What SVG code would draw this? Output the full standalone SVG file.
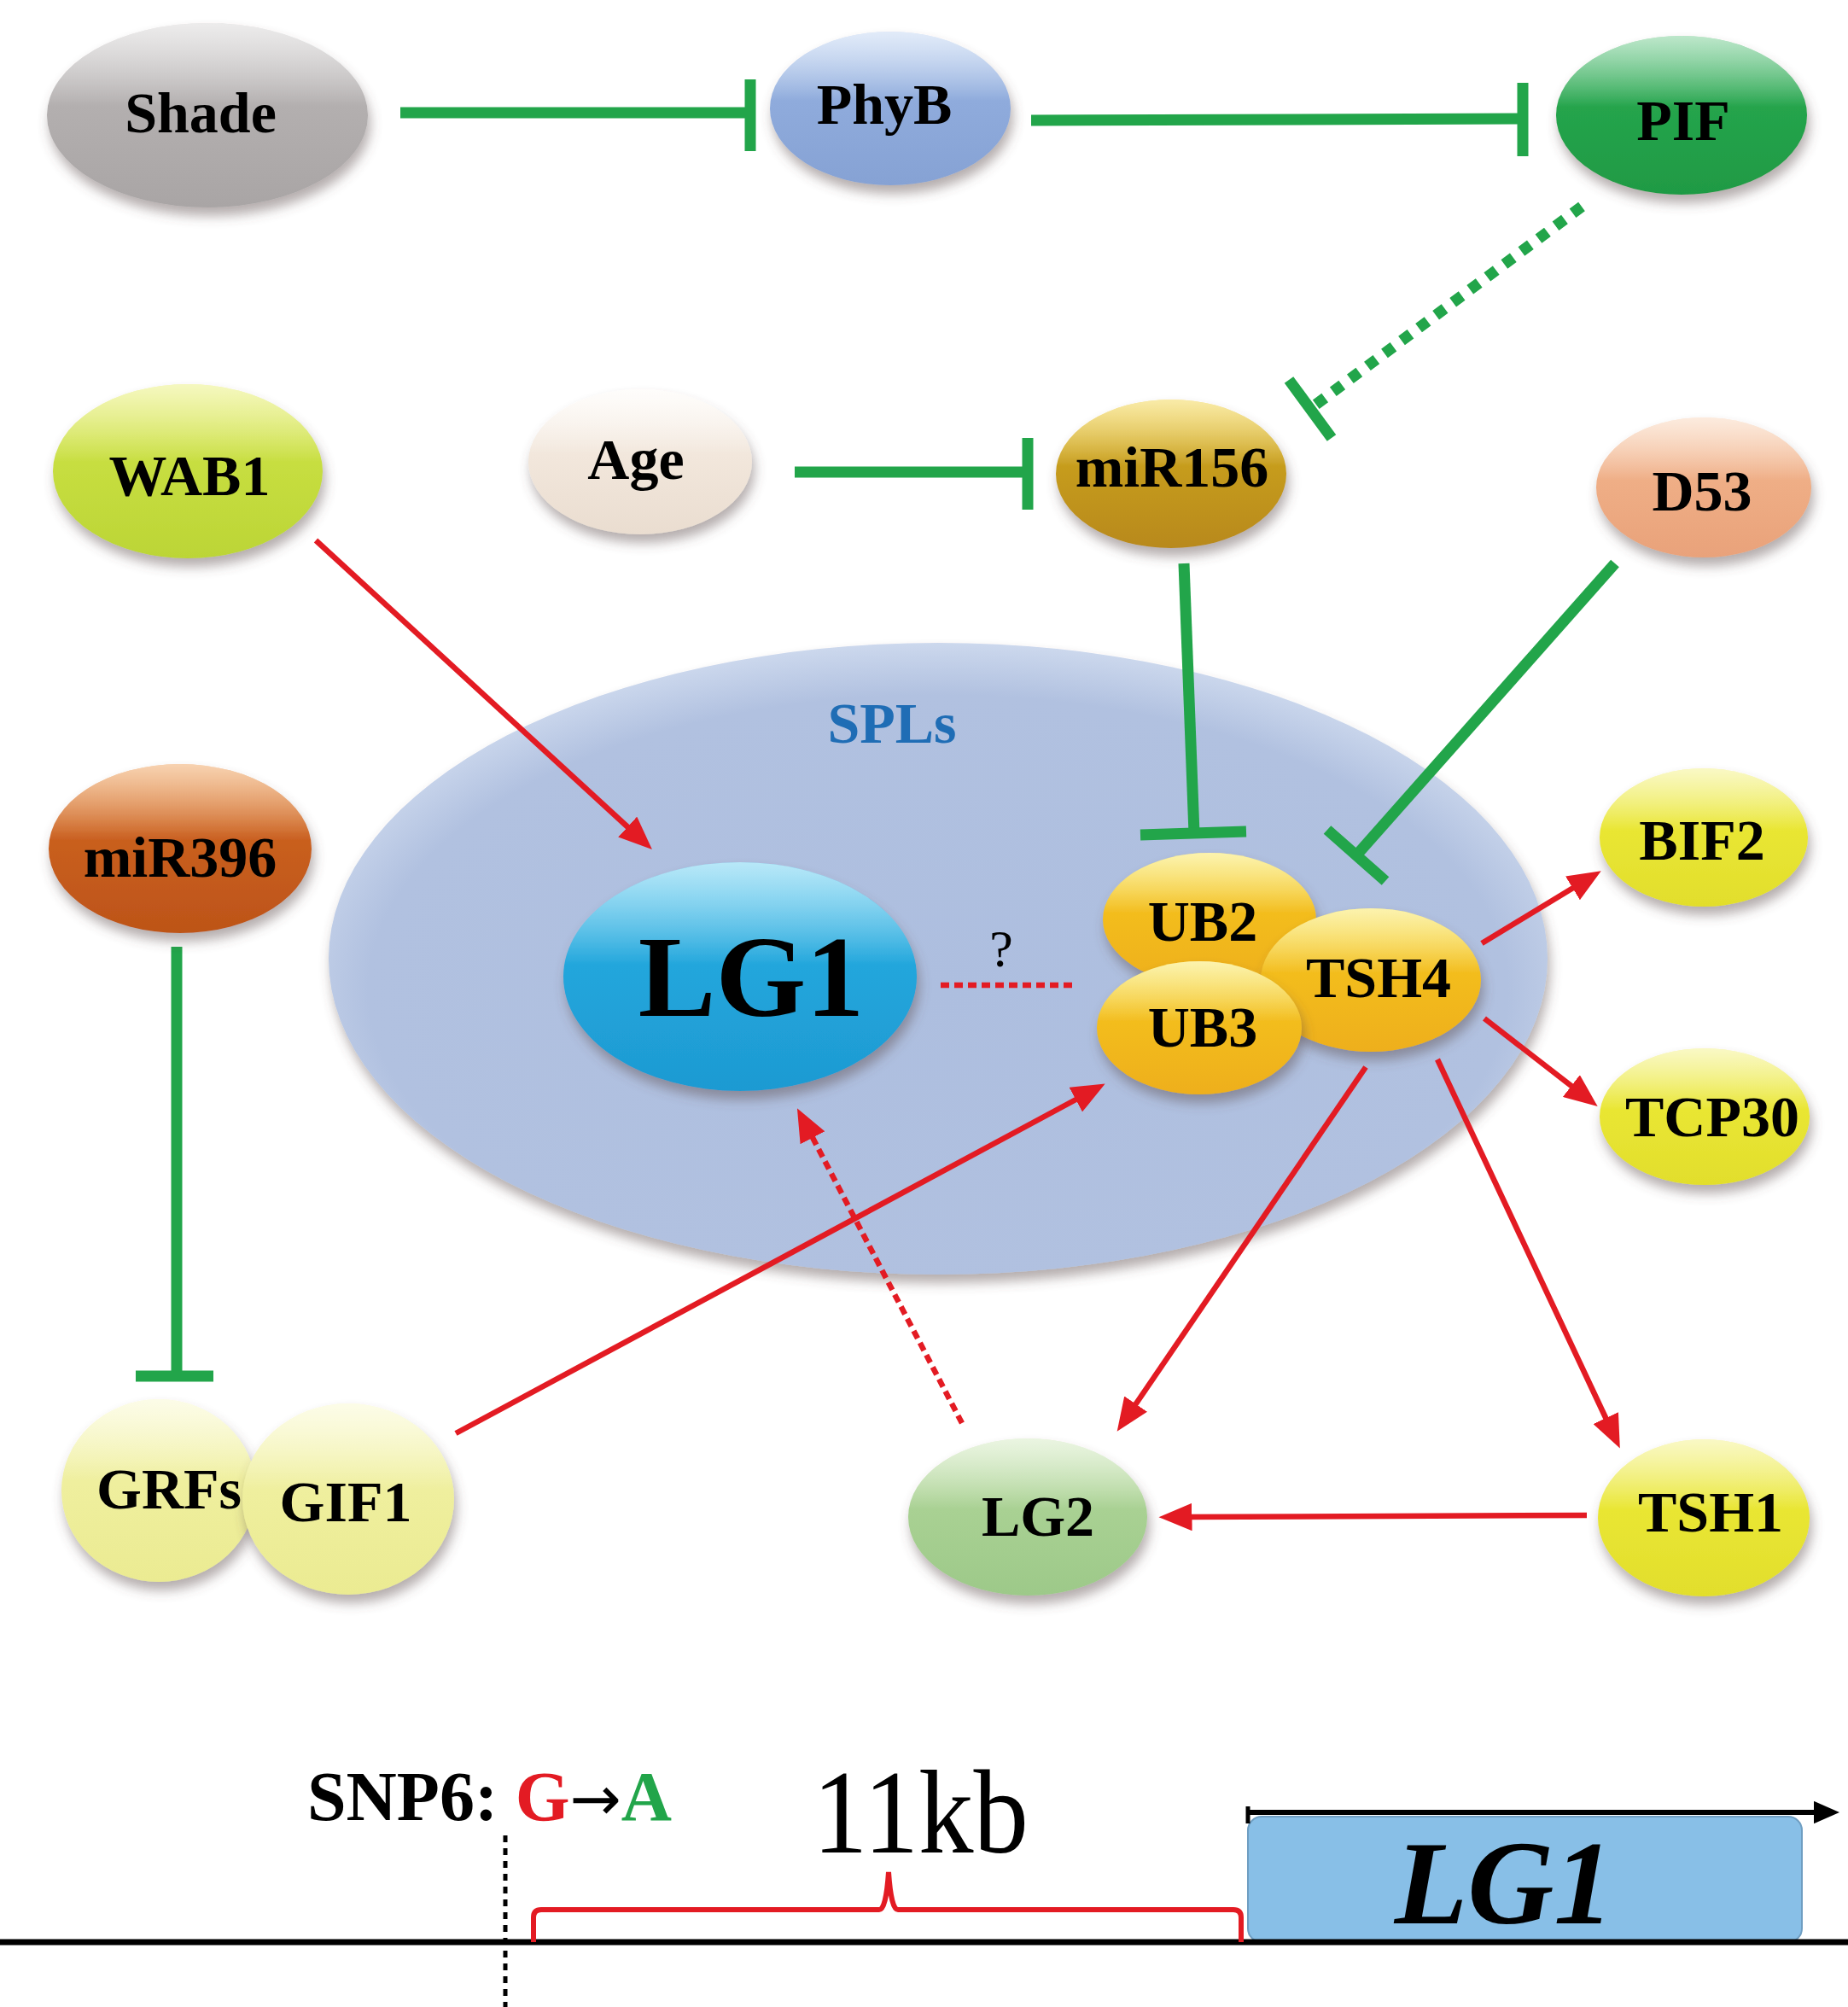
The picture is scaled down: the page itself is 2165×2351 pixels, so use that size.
<svg xmlns="http://www.w3.org/2000/svg" width="2165" height="2351" viewBox="0 0 2165 2351">
<style>
.lbl{font-family:"Liberation Serif","Times New Roman",serif;font-weight:bold;font-size:68px;fill:#000;text-anchor:middle}
.inh{stroke:#22a54a;stroke-width:13;fill:none;stroke-linecap:butt}
.act{stroke:#e31b23;stroke-width:6.5;fill:none}
.dotg{stroke:#22a54a;stroke-width:13;fill:none;stroke-dasharray:13 12}
.dotr{stroke:#e31b23;stroke-width:6.5;fill:none;stroke-dasharray:10 6}
.node{filter:url(#sh)}
.gloss{fill:url(#gloss)}
</style>
<defs>
<filter id="sh" x="-20%" y="-20%" width="140%" height="150%">
<feDropShadow dx="3" dy="10" stdDeviation="7" flood-color="#5a4a4a" flood-opacity="0.45"/>
</filter>
<linearGradient id="gloss" x1="0" y1="0" x2="0" y2="1">
<stop offset="0" stop-color="#fff" stop-opacity="0.55"/>
<stop offset="0.45" stop-color="#fff" stop-opacity="0"/>
</linearGradient>
<linearGradient id="g-shade" x1="0" y1="0" x2="0" y2="1"><stop offset="0" stop-color="#d6d4d4"/><stop offset="0.45" stop-color="#b3afaf"/><stop offset="1" stop-color="#a9a5a5"/></linearGradient>
<linearGradient id="g-phyb" x1="0" y1="0" x2="0" y2="1"><stop offset="0" stop-color="#bed3f1"/><stop offset="0.45" stop-color="#8fabdc"/><stop offset="1" stop-color="#86a2d4"/></linearGradient>
<linearGradient id="g-pif" x1="0" y1="0" x2="0" y2="1"><stop offset="0" stop-color="#6cc98a"/><stop offset="0.45" stop-color="#25a44c"/><stop offset="1" stop-color="#1f9a44"/></linearGradient>
<linearGradient id="g-wab1" x1="0" y1="0" x2="0" y2="1"><stop offset="0" stop-color="#e9ef72"/><stop offset="0.45" stop-color="#c7de40"/><stop offset="1" stop-color="#bcd536"/></linearGradient>
<linearGradient id="g-age" x1="0" y1="0" x2="0" y2="1"><stop offset="0" stop-color="#fdfaf6"/><stop offset="0.45" stop-color="#f2e7dc"/><stop offset="1" stop-color="#eaddd0"/></linearGradient>
<linearGradient id="g-mir156" x1="0" y1="0" x2="0" y2="1"><stop offset="0" stop-color="#f2d23e"/><stop offset="0.45" stop-color="#c69c1e"/><stop offset="1" stop-color="#b8891c"/></linearGradient>
<linearGradient id="g-d53" x1="0" y1="0" x2="0" y2="1"><stop offset="0" stop-color="#f9d3b6"/><stop offset="0.45" stop-color="#efae86"/><stop offset="1" stop-color="#e9a27a"/></linearGradient>
<linearGradient id="g-mir396" x1="0" y1="0" x2="0" y2="1"><stop offset="0" stop-color="#ee9c52"/><stop offset="0.45" stop-color="#c95f1f"/><stop offset="1" stop-color="#bd5418"/></linearGradient>
<linearGradient id="g-lg1" x1="0" y1="0" x2="0" y2="1"><stop offset="0" stop-color="#62ccf0"/><stop offset="0.45" stop-color="#22a6dc"/><stop offset="1" stop-color="#1e9ad2"/></linearGradient>
<linearGradient id="g-gold" x1="0" y1="0" x2="0" y2="1"><stop offset="0" stop-color="#f8e44c"/><stop offset="0.45" stop-color="#f3bd1f"/><stop offset="1" stop-color="#eeaf1a"/></linearGradient>
<linearGradient id="g-yel" x1="0" y1="0" x2="0" y2="1"><stop offset="0" stop-color="#f3f17e"/><stop offset="0.45" stop-color="#e9e633"/><stop offset="1" stop-color="#e2de2c"/></linearGradient>
<linearGradient id="g-pale" x1="0" y1="0" x2="0" y2="1"><stop offset="0" stop-color="#f9f9cc"/><stop offset="0.45" stop-color="#efef9e"/><stop offset="1" stop-color="#ebeb92"/></linearGradient>
<linearGradient id="g-lg2" x1="0" y1="0" x2="0" y2="1"><stop offset="0" stop-color="#d2e9be"/><stop offset="0.45" stop-color="#a9d193"/><stop offset="1" stop-color="#9dc989"/></linearGradient>
<radialGradient id="g-spls" cx="0.5" cy="0.55" r="0.55"><stop offset="0" stop-color="#adbedf"/><stop offset="0.85" stop-color="#b1c1e0"/><stop offset="1" stop-color="#ccd8ed"/></radialGradient>
<marker id="ah" markerUnits="strokeWidth" markerWidth="6" markerHeight="5" viewBox="0 0 6 5" refX="1" refY="2.5" orient="auto">
<path d="M0,0 L6,2.5 L0,5 z" fill="#e31b23"/>
</marker>
<marker id="ahk" markerUnits="strokeWidth" markerWidth="5" markerHeight="4.4" viewBox="0 0 5 4.4" refX="1" refY="2.2" orient="auto">
<path d="M0,0 L5,2.2 L0,4.4 z" fill="#000"/>
</marker>
</defs>
<rect width="2165" height="2351" fill="#fff"/>

<g id="SPLs">
<ellipse class="node" cx="1099" cy="1123" rx="714" ry="370" fill="url(#g-spls)"/>
<text x="1045" y="870" class="lbl" style="fill:#1f6db5">SPLs</text>
</g>

<g id="connectors">
<line class="inh" x1="469" y1="132" x2="879" y2="132"/>
<line class="inh" x1="879" y1="93" x2="879" y2="177"/>
<line class="inh" x1="1208" y1="141" x2="1784" y2="139"/>
<line class="inh" x1="1784" y1="97" x2="1784" y2="183"/>
<line class="dotg" x1="1853" y1="242" x2="1540" y2="475"/>
<line class="inh" x1="1510" y1="445" x2="1560" y2="513"/>
<line class="inh" x1="931" y1="553" x2="1204" y2="553"/>
<line class="inh" x1="1204" y1="513" x2="1204" y2="597"/>
<line class="inh" x1="1387" y1="660" x2="1399" y2="976"/>
<line class="inh" x1="1336" y1="978" x2="1460" y2="974"/>
<line class="inh" x1="1892" y1="660" x2="1589" y2="1002"/>
<line class="inh" x1="1555" y1="972" x2="1623" y2="1032"/>
<line class="inh" x1="207" y1="1109" x2="207" y2="1612"/>
<line class="inh" x1="159" y1="1612" x2="250" y2="1612"/>
<line class="act" x1="370" y1="633" x2="740" y2="973" marker-end="url(#ah)"/>
<line class="act" x1="534" y1="1679" x2="1266" y2="1285" marker-end="url(#ah)"/>
<line class="act" x1="1736" y1="1105" x2="1848" y2="1037" marker-end="url(#ah)"/>
<line class="act" x1="1739" y1="1193" x2="1846" y2="1276" marker-end="url(#ah)"/>
<line class="act" x1="1600" y1="1250" x2="1327" y2="1650" marker-end="url(#ah)"/>
<line class="act" x1="1684" y1="1241" x2="1884" y2="1667" marker-end="url(#ah)"/>
<line class="act" x1="1859" y1="1775" x2="1390" y2="1777" marker-end="url(#ah)"/>
<line class="dotr" x1="1127" y1="1667" x2="949" y2="1327" marker-end="url(#ah)"/>
<line class="dotr" x1="1102" y1="1154" x2="1259" y2="1154"/>
</g>

<g id="Shade"><ellipse class="node" cx="243" cy="135" rx="188" ry="108" fill="url(#g-shade)"/><ellipse class="gloss" cx="243" cy="135" rx="188" ry="108"/><text x="235" y="155" class="lbl">Shade</text></g>
<g id="PhyB"><ellipse class="node" cx="1043" cy="127" rx="141" ry="90" fill="url(#g-phyb)"/><ellipse class="gloss" cx="1043" cy="127" rx="141" ry="90"/><text x="1036" y="145" class="lbl">PhyB</text></g>
<g id="PIF"><ellipse class="node" cx="1970" cy="135" rx="147" ry="93" fill="url(#g-pif)"/><ellipse class="gloss" cx="1970" cy="135" rx="147" ry="93"/><text x="1972" y="164" class="lbl">PIF</text></g>
<g id="WAB1"><ellipse class="node" cx="220" cy="552" rx="158" ry="102" fill="url(#g-wab1)"/><ellipse class="gloss" cx="220" cy="552" rx="158" ry="102"/><text x="222" y="580" class="lbl">WAB1</text></g>
<g id="Age"><ellipse class="node" cx="750" cy="541" rx="131" ry="85" fill="url(#g-age)"/><ellipse class="gloss" cx="750" cy="541" rx="131" ry="85"/><text x="745" y="561" class="lbl">Age</text></g>
<g id="miR156"><ellipse class="node" cx="1372" cy="555" rx="135" ry="87" fill="url(#g-mir156)"/><ellipse class="gloss" cx="1372" cy="555" rx="135" ry="87"/><text x="1373" y="570" class="lbl">miR156</text></g>
<g id="D53"><ellipse class="node" cx="1996" cy="571" rx="126" ry="82" fill="url(#g-d53)"/><ellipse class="gloss" cx="1996" cy="571" rx="126" ry="82"/><text x="1994" y="598" class="lbl">D53</text></g>
<g id="miR396"><ellipse class="node" cx="211" cy="994" rx="154" ry="99" fill="url(#g-mir396)"/><ellipse class="gloss" cx="211" cy="994" rx="154" ry="99"/><text x="211" y="1027" class="lbl">miR396</text></g>
<g id="LG1"><ellipse class="node" cx="867" cy="1144" rx="207" ry="134" fill="url(#g-lg1)"/><ellipse class="gloss" cx="867" cy="1144" rx="207" ry="134"/><text x="880" y="1190" class="lbl" style="font-size:136px">LG1</text></g>
<g id="question"><text x="1173" y="1132" style="font-family:'Liberation Serif',serif;font-size:62px;text-anchor:middle">?</text></g>
<g id="UB2"><ellipse class="node" cx="1417" cy="1077" rx="125" ry="78" fill="url(#g-gold)"/><ellipse class="gloss" cx="1417" cy="1077" rx="125" ry="78"/><text x="1409" y="1102" class="lbl">UB2</text></g>
<g id="TSH4"><ellipse class="node" cx="1606" cy="1148" rx="129" ry="84" fill="url(#g-gold)"/><ellipse class="gloss" cx="1606" cy="1148" rx="129" ry="84"/><text x="1615" y="1168" class="lbl">TSH4</text></g>
<g id="UB3"><ellipse class="node" cx="1405" cy="1204" rx="120" ry="78" fill="url(#g-gold)"/><ellipse class="gloss" cx="1405" cy="1204" rx="120" ry="78"/><text x="1409" y="1226" class="lbl">UB3</text></g>
<g id="BIF2"><ellipse class="node" cx="1996" cy="981" rx="122" ry="81" fill="url(#g-yel)"/><ellipse class="gloss" cx="1996" cy="981" rx="122" ry="81"/><text x="1994" y="1007" class="lbl">BIF2</text></g>
<g id="TCP30"><ellipse class="node" cx="1997" cy="1308" rx="123" ry="80" fill="url(#g-yel)"/><ellipse class="gloss" cx="1997" cy="1308" rx="123" ry="80"/><text x="2006" y="1331" class="lbl">TCP30</text></g>
<g id="GRFs"><ellipse class="node" cx="186" cy="1746" rx="114" ry="107" fill="url(#g-pale)"/><ellipse class="gloss" cx="186" cy="1746" rx="114" ry="107"/></g>
<g id="GIF1"><ellipse class="node" cx="408" cy="1756" rx="124" ry="112" fill="url(#g-pale)"/><ellipse class="gloss" cx="408" cy="1756" rx="124" ry="112"/><text x="405" y="1782" class="lbl">GIF1</text></g>
<g id="GRFs-label"><text x="198" y="1767" class="lbl">GRFs</text></g>
<g id="LG2"><ellipse class="node" cx="1204" cy="1777" rx="140" ry="92" fill="url(#g-lg2)"/><ellipse class="gloss" cx="1204" cy="1777" rx="140" ry="92"/><text x="1216" y="1799" class="lbl">LG2</text></g>
<g id="TSH1"><ellipse class="node" cx="1996" cy="1778" rx="124" ry="92" fill="url(#g-yel)"/><ellipse class="gloss" cx="1996" cy="1778" rx="124" ry="92"/><text x="2004" y="1794" class="lbl">TSH1</text></g>

<g id="gene-map">
<rect x="1462" y="2128" width="649" height="147" rx="16" fill="#88bfe7" stroke="#6f9ec2" stroke-width="2"/>
<line x1="0" y1="2275" x2="2165" y2="2275" stroke="#000" stroke-width="7"/>
<line x1="592" y1="2150" x2="592" y2="2351" stroke="#000" stroke-width="5" stroke-dasharray="8 7"/>
<path d="M625,2275 L625,2246 Q625,2237 634,2237 L1030,2237 Q1038,2237 1041,2193 Q1044,2237 1052,2237 L1445,2237 Q1454,2237 1454,2246 L1454,2275" fill="none" stroke="#e31b23" stroke-width="6"/>
<line x1="1462" y1="2123" x2="2131" y2="2123" stroke="#000" stroke-width="6" marker-end="url(#ahk)"/>
<line x1="1462" y1="2116" x2="1462" y2="2136" stroke="#000" stroke-width="5"/>
<text x="360" y="2132" style="font-family:'Liberation Serif',serif;font-weight:bold;font-size:82px">SNP6: <tspan fill="#e31b23">G</tspan><tspan style="font-family:'DejaVu Sans',sans-serif;font-weight:normal;font-size:72px">→</tspan><tspan fill="#22a54a">A</tspan></text>
<text x="952" y="2170" textLength="253" lengthAdjust="spacingAndGlyphs" style="font-family:'Liberation Serif',serif;font-size:140px">11kb</text>
<text x="1762" y="2253" style="font-family:'Liberation Serif',serif;font-weight:bold;font-style:italic;font-size:140px;text-anchor:middle">LG1</text>
</g>
</svg>
